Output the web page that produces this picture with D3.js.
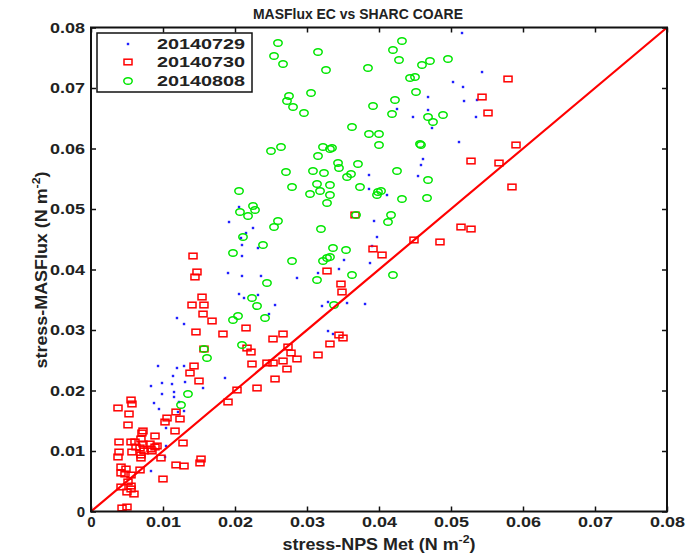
<!DOCTYPE html>
<html><head><meta charset="utf-8">
<script src="https://cdn.jsdelivr.net/npm/d3@7"></script>
<style>
html,body{margin:0;padding:0;background:#fff;}
text{font-family:"Liberation Sans",Arial,sans-serif;font-weight:bold;fill:#222;}
</style></head>
<body><svg id="chart" width="687" height="556"></svg>
<script>
const title = "MASFlux EC vs SHARC COARE";
const seriesNames = ["20140729", "20140730", "20140808"];
const xTicks = [0, 0.01, 0.02, 0.03, 0.04, 0.05, 0.06, 0.07, 0.08];
const yTicks = [0, 0.01, 0.02, 0.03, 0.04, 0.05, 0.06, 0.07, 0.08];

// 20140729 (blue dots) [x, y]
const s20140729 = [
 [0.05153,0.07909],[0.05431,0.07264],[0.05028,0.07099],[0.05167,0.07017],[0.05181,0.06785],
 [0.05361,0.06802],[0.04681,0.06851],[0.04681,0.06636],[0.0425,0.06653],[0.04472,0.06521],
 [0.05347,0.06521],[0.04736,0.06339],[0.05111,0.06107],[0.04611,0.05826],[0.04583,0.05727],
 [0.04542,0.05545],[0.03861,0.05562],[0.03861,0.05331],[0.04111,0.05231],[0.03931,0.04802],
 [0.03972,0.04537],[0.03903,0.04388],[0.03875,0.04107],[0.03514,0.04157],[0.03444,0.04008],
 [0.03153,0.03942],[0.02861,0.03860],[0.02556,0.03413],[0.03292,0.03463],[0.03208,0.03397],
 [0.03556,0.03446],[0.03806,0.03430],[0.03292,0.02983],[0.03361,0.02934],[0.02056,0.05033],
 [0.01917,0.04785],[0.02153,0.04603],[0.0225,0.04686],[0.02083,0.04521],[0.02097,0.04405],
 [0.02319,0.04355],[0.02097,0.04223],[0.01903,0.03942],[0.02097,0.03893],[0.02361,0.03893],
 [0.02056,0.03595],[0.02125,0.03529],[0.02319,0.03579],[0.02472,0.03264],[0.01194,0.03198],
 [0.01292,0.03099],[0.00931,0.02405],[0.01194,0.02372],[0.01292,0.02405],[0.01139,0.02240],
 [0.00833,0.02074],[0.00986,0.02124],[0.01125,0.02107],[0.01306,0.02140],[0.00986,0.01942],
 [0.01153,0.01975],[0.01153,0.01893],[0.01556,0.02041],[0.01861,0.02207],[0.00875,0.01793],
 [0.00944,0.01694],[0.01222,0.01810],[0.01292,0.01661],[0.01208,0.01645],[0.01042,0.01380],
 [0.01042,0.01083],[0.01028,0.00901],[0.00833,0.00669]
];

// 20140730 (red squares) [x, y]
const s20140730 = [
 [0.05792,0.07149],[0.05431,0.06851],[0.05514,0.06587],[0.05903,0.06058],[0.05278,0.05793],
 [0.05667,0.05760],[0.05847,0.05364],[0.05139,0.04702],[0.05278,0.04669],[0.04847,0.04455],
 [0.04486,0.04488],[0.03667,0.04901],[0.03917,0.04339],[0.04042,0.04240],[0.03278,0.03975],
 [0.03472,0.03760],[0.03486,0.03628],[0.02667,0.02934],[0.02528,0.02851],[0.02736,0.02719],
 [0.02778,0.02620],[0.02667,0.02488],[0.02861,0.02521],[0.02722,0.02355],[0.03153,0.02587],
 [0.03319,0.02769],[0.03444,0.02917],[0.035,0.02868],[0.02528,0.02455],[0.02444,0.02455],
 [0.02556,0.02190],[0.01417,0.04223],[0.01472,0.03959],[0.01444,0.03876],[0.01542,0.03545],
 [0.01403,0.03413],[0.01569,0.03413],[0.01556,0.03264],[0.01681,0.03149],[0.01458,0.02967],
 [0.01833,0.02934],[0.02153,0.03033],[0.01569,0.02686],[0.02167,0.02702],[0.02222,0.02636],
 [0.02236,0.02438],[0.01431,0.02405],[0.01375,0.02289],[0.015,0.02157],[0.02306,0.02041],
 [0.02028,0.02008],[0.01903,0.01810],
 [0.00556,0.01843],[0.00569,0.01777],[0.00375,0.01711],[0.00528,0.01612],[0.00514,0.01430],
 [0.00722,0.01331],[0.00708,0.01298],[0.00889,0.01248],[0.01056,0.01545],[0.01028,0.01479],
 [0.01181,0.01645],[0.01236,0.01529],[0.01167,0.01331],[0.00389,0.01149],[0.00556,0.01149],
 [0.00611,0.01149],[0.00694,0.01198],[0.00625,0.01066],[0.00569,0.00983],[0.00681,0.01050],
 [0.00722,0.01116],[0.00736,0.01000],[0.00819,0.01116],[0.00833,0.01033],[0.00889,0.01066],
 [0.00917,0.01083],[0.00847,0.01000],[0.00694,0.00934],[0.00694,0.00884],[0.00389,0.00983],
 [0.00375,0.00901],[0.00972,0.00884],[0.01278,0.01132],[0.01528,0.00868],[0.01514,0.00802],
 [0.01181,0.00769],[0.01292,0.00752],[0.00417,0.00736],[0.00486,0.00702],[0.00417,0.00636],
 [0.00472,0.00620],[0.00556,0.00603],[0.00681,0.00686],[0.01,0.00537],[0.00514,0.00488],
 [0.00417,0.00405],[0.00556,0.00421],[0.005,0.00322],[0.00597,0.00289],[0.00556,0.00372],
 [0.00431,0.00058],[0.005,0.00074]
];

// 20140808 (green circles) [x, y]
const s20140808 = [
 [0.02597,0.07744],[0.02542,0.07529],[0.02667,0.07397],[0.03153,0.07595],[0.03264,0.07298],
 [0.03847,0.07331],[0.04319,0.07777],[0.04194,0.07628],[0.04278,0.07463],[0.04597,0.07380],
 [0.04708,0.07446],[0.04958,0.07479],[0.04431,0.07165],[0.045,0.07182],[0.04514,0.06934],
 [0.0275,0.06868],[0.02722,0.06785],[0.02806,0.06686],[0.03056,0.06917],[0.02958,0.06587],
 [0.03917,0.06702],[0.04222,0.06802],[0.04181,0.06570],[0.04681,0.06521],[0.0475,0.06438],
 [0.04889,0.06554],[0.03625,0.06355],[0.03861,0.06240],[0.04,0.06240],[0.04,0.06058],
 [0.04569,0.06074],[0.04583,0.06058],[0.02639,0.06025],[0.025,0.05959],[0.03222,0.06025],
 [0.03347,0.06008],[0.03319,0.05992],[0.03153,0.05876],[0.03431,0.05760],[0.03444,0.05678],
 [0.03708,0.05744],[0.02708,0.05612],[0.03083,0.05628],[0.03236,0.05595],[0.03556,0.05529],
 [0.03611,0.05579],[0.0425,0.05628],[0.04681,0.05479],[0.02792,0.05364],[0.03139,0.05413],
 [0.03319,0.05397],[0.03736,0.05364],[0.04028,0.05298],[0.03042,0.05248],[0.03181,0.05298],
 [0.03319,0.05231],[0.03278,0.05099],[0.03972,0.05231],[0.03986,0.05281],[0.04319,0.05165],
 [0.04667,0.05182],[0.03681,0.04901],[0.04167,0.04901],[0.04125,0.04785],[0.02597,0.04802],
 [0.02542,0.04702],[0.03194,0.04669],[0.03361,0.04355],[0.03542,0.04322],[0.02792,0.04140],
 [0.03222,0.04140],[0.03278,0.04190],[0.03319,0.04207],[0.03625,0.03909],[0.04194,0.03909],
 [0.03139,0.03826],[0.03375,0.03413],[0.02056,0.05298],[0.02069,0.04950],[0.02181,0.04884],
 [0.0225,0.05050],[0.02278,0.04983],[0.02111,0.04537],[0.02389,0.04405],[0.01972,0.04273],
 [0.02444,0.03777],[0.02236,0.03529],[0.02306,0.03397],[0.02042,0.03231],[0.01972,0.03165],
 [0.02417,0.03198],[0.02097,0.02752],[0.01569,0.02686],[0.01611,0.02537],[0.01347,0.01942],
 [0.0125,0.01760]
];

const W = 687, H = 556;
const margin = {left: 91, right: 20, top: 27.5, bottom: 44.5};
const svg = d3.select("#chart");
const x = d3.scaleLinear().domain([0, 0.08]).range([margin.left, W - margin.right]);
const y = d3.scaleLinear().domain([0, 0.08]).range([H - margin.bottom, margin.top]);
const fmt = d => d === 0 ? "0" : d3.format(".2f")(d);

const plot = svg.append("g");

// markers
plot.append("g").selectAll("rect").data(s20140729).join("rect")
  .attr("x", d => x(d[0]) - 1.2).attr("y", d => y(d[1]) - 1.2)
  .attr("width", 2.4).attr("height", 2.4).attr("fill", "#2020ff");

plot.append("g").selectAll("rect").data(s20140730).join("rect")
  .attr("x", d => x(d[0]) - 4).attr("y", d => y(d[1]) - 2.8)
  .attr("width", 8).attr("height", 5.6)
  .attr("fill", "none").attr("stroke", "#ff0000").attr("stroke-width", 1.5);

plot.append("g").selectAll("ellipse").data(s20140808).join("ellipse")
  .attr("cx", d => x(d[0])).attr("cy", d => y(d[1]))
  .attr("rx", 4.2).attr("ry", 3.3)
  .attr("fill", "none").attr("stroke", "#00e600").attr("stroke-width", 1.5);

// 1:1 line
plot.append("line")
  .attr("x1", x(0)).attr("y1", y(0)).attr("x2", x(0.08)).attr("y2", y(0.08))
  .attr("stroke", "#ff0000").attr("stroke-width", 2.2);

// axes
const tickStyle = g => {
  g.select(".domain").remove();
  g.selectAll("line").attr("stroke", "#111").attr("stroke-width", 1.5);
  g.selectAll("text").attr("font-size", 15).attr("fill", "#222")
    .style("font-family", "'Liberation Sans', Arial, sans-serif").style("font-weight", "bold");
};
svg.append("g").attr("transform", `translate(0,${y(0)})`)
  .call(d3.axisBottom(x).tickValues(xTicks).tickFormat(fmt).tickSizeInner(-5).tickSizeOuter(0).tickPadding(5))
  .call(tickStyle);
svg.append("g").attr("transform", `translate(0,${y(0.08)})`)
  .call(d3.axisTop(x).tickValues(xTicks).tickFormat("").tickSizeInner(-5).tickSizeOuter(0))
  .call(tickStyle);
svg.append("g").attr("transform", `translate(${x(0)},0)`)
  .call(d3.axisLeft(y).tickValues(yTicks).tickFormat(fmt).tickSizeInner(-5).tickSizeOuter(0).tickPadding(6))
  .call(tickStyle);
svg.append("g").attr("transform", `translate(${x(0.08)},0)`)
  .call(d3.axisRight(y).tickValues(yTicks).tickFormat("").tickSizeInner(-5).tickSizeOuter(0))
  .call(tickStyle);

svg.selectAll("g.tick text").attr("textLength", function(){ return this.textContent.length > 1 ? 35 : null; })
  .attr("lengthAdjust", "spacingAndGlyphs");

// frame
svg.append("rect").attr("x", x(0)).attr("y", y(0.08))
  .attr("width", x(0.08) - x(0)).attr("height", y(0) - y(0.08))
  .attr("fill", "none").attr("stroke", "#111").attr("stroke-width", 2);

// title
svg.append("text").attr("x", 358).attr("y", 19).attr("text-anchor", "middle")
  .attr("font-size", 15).attr("textLength", 210).attr("lengthAdjust", "spacingAndGlyphs").text(title);

// x label
const xl = svg.append("g").attr("transform", "translate(379,550) scale(1.12,1)")
  .append("text").attr("text-anchor", "middle").attr("font-size", 16);
xl.append("tspan").text("stress-NPS Met (N m");
xl.append("tspan").attr("font-size", 11).attr("dy", -7).text("-2");
xl.append("tspan").attr("dy", 7).text(")");

// y label
const yl = svg.append("g").attr("transform", "translate(47,270) rotate(-90) scale(1.12,1)")
  .append("text").attr("text-anchor", "middle").attr("font-size", 16);
yl.append("tspan").text("stress-MASFlux (N m");
yl.append("tspan").attr("font-size", 11).attr("dy", -7).text("-2");
yl.append("tspan").attr("dy", 7).text(")");

// legend
const lg = svg.append("g");
lg.append("rect").attr("x", 97).attr("y", 33).attr("width", 155).attr("height", 59)
  .attr("fill", "#fff").attr("stroke", "#111").attr("stroke-width", 1.5);
const rowY = [44, 62, 81];
seriesNames.forEach((name, i) => {
  const cy = rowY[i], cx = 128;
  if (i === 0) lg.append("rect").attr("x", cx - 1.2).attr("y", cy - 1.2).attr("width", 2.4).attr("height", 2.4).attr("fill", "#2020ff");
  if (i === 1) lg.append("rect").attr("x", cx - 4).attr("y", cy - 2.8).attr("width", 8).attr("height", 5.6)
      .attr("fill", "none").attr("stroke", "#ff0000").attr("stroke-width", 1.5);
  if (i === 2) lg.append("ellipse").attr("cx", cx).attr("cy", cy).attr("rx", 4.2).attr("ry", 3.3)
      .attr("fill", "none").attr("stroke", "#00e600").attr("stroke-width", 1.5);
  lg.append("text").attr("x", 157).attr("y", cy + 5).attr("font-size", 15)
    .attr("textLength", 88).attr("lengthAdjust", "spacingAndGlyphs").text(name);
});
</script></body></html>
